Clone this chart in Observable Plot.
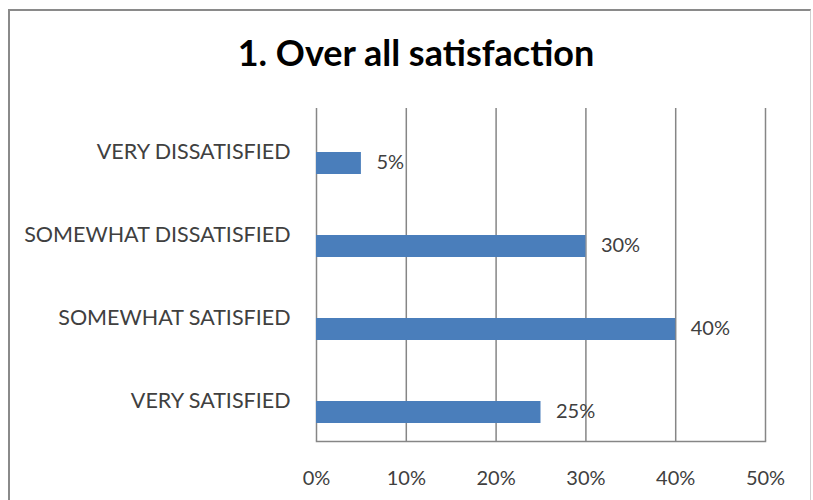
<!DOCTYPE html>
<html>
<head>
<meta charset="utf-8">
<script src="https://cdn.jsdelivr.net/npm/d3@7"></script>
<script src="https://cdn.jsdelivr.net/npm/@observablehq/plot@0.6"></script>
<style>
  html, body { margin: 0; padding: 0; background: #fff; overflow: hidden; }
  #wrap { position: relative; width: 813px; height: 500px; overflow: hidden; background: #fff; }
  #border { position: absolute; left: 8px; top: 9px; width: 803px; height: 520px;
            border-top: 2px solid #8a8a8a; border-left: 2px solid #8a8a8a; border-right: 1px solid #d0d0d0; box-sizing: border-box; }
  #title { position: absolute; left: 0; width: 832px; top: 30px; text-align: center;
           font-family: Lato, sans-serif; font-weight: bold; font-size: 36px; color: #000; }
  #chart { position: absolute; left: 0; top: 0; }
</style>
</head>
<body>
<div id="wrap">
  <div id="border"></div>
  <div id="chart"></div>
  <div id="title">1. Over all satisfaction</div>
</div>
<script>
const categories = ["VERY DISSATISFIED", "SOMEWHAT DISSATISFIED", "SOMEWHAT SATISFIED", "VERY SATISFIED"];
const values = [0.05, 0.30, 0.40, 0.25];
const xTicks = [0, 0.1, 0.2, 0.3, 0.4, 0.5];

const data = categories.map((c, i) => ({category: c, value: values[i]}));

const chart = Plot.plot({
  width: 813,
  height: 500,
  marginLeft: 316,
  marginRight: 48,
  marginTop: 108,
  marginBottom: 59,
  style: {fontFamily: "Lato, sans-serif", fontSize: "20px", color: "#404040", background: "transparent"},
  x: {domain: [0, 0.5], ticks: xTicks, tickFormat: d3.format(".0%")},
  y: {domain: categories, padding: 0},
  marks: [
    Plot.ruleX(xTicks, {stroke: "#868686", strokeWidth: 1.5}),
    Plot.frame({anchor: "bottom", stroke: "#868686", strokeWidth: 1.5}),
    Plot.barX(data, {x: "value", y: "category", fill: "#4a7ebb", insetTop: 43, insetBottom: 18}),
    Plot.text(data, {x: "value", y: "category", text: d => d3.format(".0%")(d.value), textAnchor: "start", dx: 15, dy: 12, fill: "#404040", fontSize: 20}),
    Plot.axisX({ticks: xTicks, tickFormat: d3.format(".0%"), tickSize: 0, tickPadding: 29, label: null, fill: "#404040", fontSize: 20}),
    Plot.axisY({tickSize: 0, tickPadding: 26, label: null, fill: "#404040", dy: 1, fontSize: 21.5})
  ]
});
document.getElementById("chart").appendChild(chart);
</script>
</body>
</html>
